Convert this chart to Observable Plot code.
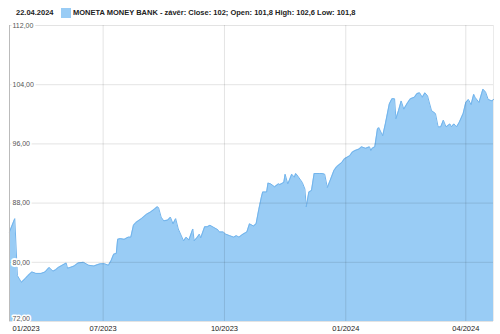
<!DOCTYPE html>
<html>
<head>
<meta charset="utf-8">
<script src="https://cdn.jsdelivr.net/npm/d3@7"></script>
<script src="https://cdn.jsdelivr.net/npm/@observablehq/plot@0.6"></script>
<style>
body{margin:0;background:#fff;width:500px;height:334px;overflow:hidden;position:relative;font-family:"Liberation Sans",Arial,sans-serif;}
#hdr{position:absolute;left:0;top:0;width:500px;height:18px;font-size:7.5px;color:#222;}
#hdr span{position:absolute;top:8px;white-space:nowrap;line-height:10px;}
#chart{position:absolute;left:0;top:18px;}
</style>
</head>
<body>
<div id="hdr">
  <span id="hdate" style="left:16px;font-weight:bold"></span>
  <span id="hsw" style="left:61px;width:10px;height:10px;background:#99ccf5;top:8px"></span>
  <span id="hlab" style="left:73px;font-weight:bold"></span>
</div>
<div id="chart"></div>
<script>
const headerDate = "22.04.2024";
const seriesLabel = "MONETA MONEY BANK - závěr: Close: 102; Open: 101,8 High: 102,6 Low: 101,8";

const dates = [
"2023-04-21","2023-04-25","2023-04-27","2023-04-30","2023-05-03","2023-05-05","2023-05-08","2023-05-11","2023-05-15","2023-05-18",
"2023-05-21","2023-05-24","2023-05-26","2023-05-28","2023-05-31","2023-06-03","2023-06-04","2023-06-06","2023-06-09","2023-06-12",
"2023-06-16","2023-06-18","2023-06-20","2023-06-24","2023-06-27","2023-06-29","2023-07-02","2023-07-05","2023-07-06","2023-07-07",
"2023-07-09","2023-07-11","2023-07-12","2023-07-14","2023-07-17","2023-07-20","2023-07-22","2023-07-24","2023-07-26","2023-07-30",
"2023-08-03","2023-08-06","2023-08-09","2023-08-11","2023-08-12","2023-08-14","2023-08-16","2023-08-19","2023-08-21","2023-08-23",
"2023-08-25","2023-08-27","2023-08-31","2023-09-02","2023-09-04","2023-09-07","2023-09-08","2023-09-10","2023-09-12","2023-09-13",
"2023-09-16","2023-09-18","2023-09-20","2023-09-23","2023-09-26","2023-09-27","2023-09-30","2023-10-02","2023-10-05","2023-10-08",
"2023-10-10","2023-10-12","2023-10-15","2023-10-18","2023-10-20","2023-10-23","2023-10-25","2023-10-27","2023-10-29","2023-10-30",
"2023-11-02","2023-11-03","2023-11-05","2023-11-08","2023-11-11","2023-11-12","2023-11-15","2023-11-16","2023-11-18","2023-11-19",
"2023-11-21","2023-11-23","2023-11-24","2023-11-25","2023-11-29","2023-12-01","2023-12-02","2023-12-04","2023-12-06","2023-12-08",
"2023-12-12","2023-12-14","2023-12-16","2023-12-18","2023-12-20","2023-12-23","2023-12-25","2023-12-29","2023-12-31","2024-01-04",
"2024-01-06","2024-01-08","2024-01-11","2024-01-13","2024-01-16","2024-01-19","2024-01-20","2024-01-21","2024-01-23","2024-01-25",
"2024-01-26","2024-01-29","2024-01-31","2024-02-03","2024-02-05","2024-02-07","2024-02-08","2024-02-10","2024-02-12","2024-02-14",
"2024-02-17","2024-02-19","2024-02-22","2024-02-24","2024-02-26","2024-02-28","2024-03-01","2024-03-03","2024-03-04","2024-03-06",
"2024-03-09","2024-03-11","2024-03-13","2024-03-15","2024-03-17","2024-03-20","2024-03-21","2024-03-23","2024-03-25","2024-03-27",
"2024-03-30","2024-04-01","2024-04-03","2024-04-05","2024-04-07","2024-04-08","2024-04-11","2024-04-14","2024-04-16","2024-04-18",
"2024-04-21","2024-04-22"
];
const closes = [
84.1,85.9,78.2,77.3,77.8,78.2,78.7,78.5,78.5,78.7,
79.3,78.8,79.0,79.3,79.6,79.9,79.2,79.3,79.5,79.9,
80.0,79.8,79.6,79.5,79.7,79.8,79.8,79.6,79.9,80.2,
81.1,81.2,83.1,83.2,83.1,83.4,83.4,85.0,85.4,85.9,
86.5,86.8,87.2,87.5,87.4,86.1,85.6,85.7,86.1,85.2,
85.9,84.5,82.9,83.4,83.0,84.5,82.9,83.3,83.8,83.3,
84.8,84.8,85.0,84.7,84.4,84.1,84.1,83.8,83.6,83.4,
83.6,83.4,83.8,84.1,85.2,84.9,85.2,87.1,88.8,89.5,
89.5,90.7,90.6,90.2,90.6,90.5,90.8,91.9,90.6,91.0,
91.9,91.5,92.0,91.8,90.8,89.9,87.5,89.5,89.7,92.0,
92.0,92.0,91.9,90.1,91.0,92.4,92.9,93.5,94.0,94.4,
94.9,95.1,95.3,95.6,95.4,95.6,95.1,95.4,95.6,98.0,
98.2,97.1,98.7,101.4,102.1,102.1,99.4,100.5,101.8,100.7,
101.6,102.1,102.3,102.8,102.9,102.3,102.9,102.5,101.8,100.5,
100.1,98.3,98.3,99.2,98.3,98.7,98.3,98.7,98.3,98.9,
100.1,101.6,102.0,101.3,102.7,102.3,101.6,103.4,103.0,102.0,
101.8,102.0
];
const yTicks = [72, 80, 88, 96, 104, 112];
const yTickLabels = ["72,00","80,00","88,00","96,00","104,00","112,00"];
const xTickDates = ["2023-04-21","2023-07-01","2023-10-01","2024-01-01","2024-04-01"];
const xTickLabels = ["01/2023","07/2023","10/2023","01/2024","04/2024"];
const xDomain = ["2023-04-21","2024-04-22"];

document.getElementById("hdate").textContent = headerDate;
document.getElementById("hlab").textContent = seriesLabel;

const data = dates.map((d, i) => ({date: new Date(d), value: closes[i]}));
const xt = xTickDates.map((d, i) => ({date: new Date(d), label: xTickLabels[i]}));
const yt = yTicks.map((v, i) => ({v, label: yTickLabels[i]}));
const x0 = new Date(xDomain[0]), x1 = new Date(xDomain[1]);

const chart = Plot.plot({
  width: 500,
  height: 316,
  marginLeft: 9,
  marginRight: 7,
  marginTop: 7,
  marginBottom: 13,
  style: {fontFamily: "'Liberation Sans', Arial, sans-serif", background: "white"},
  x: {type: "utc", domain: [x0, x1], axis: null},
  y: {domain: [72, 112], axis: null},
  marks: [
    Plot.areaY(data, {x: "date", y1: 72, y2: "value", fill: "#99ccf5", curve: "linear"}),
    Plot.lineY(data, {x: "date", y: "value", stroke: "#72b4ec", strokeWidth: 1}),
    Plot.ruleY(yt, {y: "v", stroke: "#000", strokeOpacity: 0.11}),
    Plot.ruleX(xt.slice(1), {x: "date", stroke: "#000", strokeOpacity: 0.11}),
    Plot.ruleX([x0], {stroke: "#bbb"}),
    Plot.ruleX([x1], {stroke: "#000", strokeOpacity: 0.08}),
    Plot.text(yt.slice(1), {x: () => x0, y: "v", text: "label", textAnchor: "start", dx: 3, fontSize: 7, fill: "#555", stroke: "white", strokeWidth: 4}),
    Plot.text(yt.slice(0, 1), {x: () => x0, y: "v", text: "label", textAnchor: "start", dx: 3, dy: -3, fontSize: 7, fill: "#555", stroke: "white", strokeWidth: 3}),
    Plot.text(xt.slice(0, 1), {x: "date", y: () => 72, text: "label", textAnchor: "start", dx: 3, dy: 7, fontSize: 7.5, fill: "#222"}),
    Plot.text(xt.slice(1), {x: "date", y: () => 72, text: "label", dy: 7, fontSize: 7.5, fill: "#222"})
  ]
});
document.getElementById("chart").appendChild(chart);
</script>
</body>
</html>
